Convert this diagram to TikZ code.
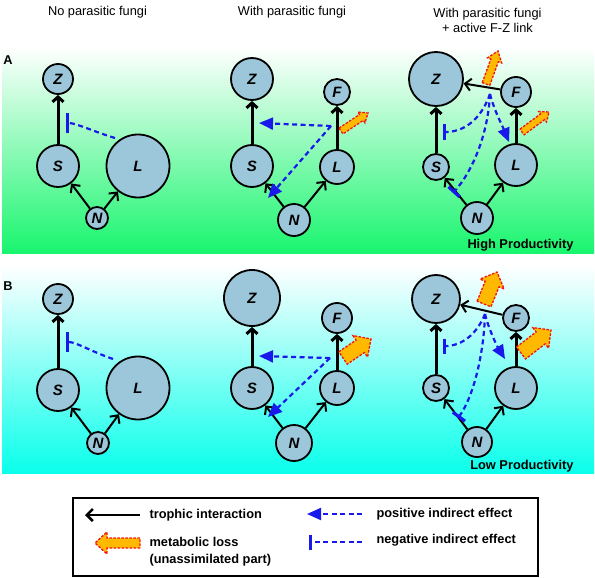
\documentclass[tikz,border=0pt]{standalone}
\usepackage{fontspec}
\setmainfont{Liberation Sans}
\usetikzlibrary{arrows.meta,calc}
\definecolor{nodefill}{RGB}{156,199,218}
\definecolor{dblue}{RGB}{25,25,235}
\definecolor{greenbot}{RGB}{25,245,110}
\definecolor{cyanbot}{RGB}{10,255,235}
\definecolor{lossfill}{RGB}{255,185,0}
\definecolor{lossred}{RGB}{240,20,20}
\tikzset{
  sp/.style={circle, draw=black, line width=1.8pt, fill=nodefill, inner sep=0pt,
    font=\fontsize{15}{15}\selectfont\bfseries\itshape},
  troph/.style={line width=2pt, -{Straight Barb[length=6pt,width=12pt]}},
  trophk/.style={line width=3pt, -{Straight Barb[length=5pt,width=11pt]}},
  poseff/.style={dblue, line width=2.2pt, dash pattern=on 5pt off 3.5pt, -{Triangle[length=14pt,width=12pt]}},
  negeff/.style={dblue, line width=2.2pt, dash pattern=on 5pt off 3.5pt, -{Bar[width=15pt,line width=3.2pt]}},
  negeffl/.style={negeff, -{Bar[width=20pt,line width=3.4pt]}},
  lossst/.style={fill=lossfill, draw=lossred, line width=1.3pt, dash pattern=on 2.5pt off 1.5pt, line join=miter},
  lbl/.style={font=\fontsize{12.8}{15.5}\selectfont},
  blbl/.style={font=\fontsize{12.8}{16.5}\selectfont\bfseries},
}
\newcommand\lossarrow[6]{%
  \coordinate (#1s) at #2; \coordinate (#1t) at #3;
  \coordinate (#1h) at ($(#1t)!#6!(#1s)$);
  \draw[lossst] ($(#1s)!#4!90:(#1t)$) -- ($(#1h)!#4!-90:(#1s)$) -- ($(#1h)!#5!-90:(#1s)$)
    -- (#1t) -- ($(#1h)!#5!90:(#1s)$) -- ($(#1h)!#4!90:(#1s)$) -- ($(#1s)!#4!-90:(#1t)$) -- cycle;
}
\begin{document}
\begin{tikzpicture}[x=1pt,y=-1pt]
\useasboundingbox (0,0) rectangle (595,578);
% backgrounds
\shade[top color=white, bottom color=greenbot] (2,47) rectangle (594,253);
\shade[top color=white, bottom color=cyanbot] (2,265) rectangle (594,473);
% titles
\node[lbl] (t1) at (97.5,12.5) {No parasitic fungi};
\node[lbl] (t2) at (292,12.5) {With parasitic fungi};
\node[lbl, align=center] (t3) at (487.5,20.5) {With parasitic fungi\\+ active F-Z link};
\node[blbl] (pA) at (8,60) {A};
\node[blbl] (pB) at (8,286) {B};
\node[blbl, anchor=east] (hp) at (577,245) {High Productivity};
\node[blbl, anchor=east] (lp) at (577,466) {Low Productivity};

% ===== Panel A, column 1
\node[sp, minimum size=30pt] (A1Z) at (58,79) {Z};
\node[sp, minimum size=42pt] (A1S) at (58,166) {S};
\node[sp, minimum size=63pt] (A1L) at (138,166) {L};
\node[sp, minimum size=22pt] (A1N) at (97,218) {N};
\draw[trophk] (A1S) -- (A1Z);
\draw[troph] (A1N) -- (A1S);
\draw[troph] (A1N) -- (A1L);
\coordinate (A1d) at (115,138);
\coordinate (A1b) at (66,123);
\draw[negeffl] (A1d) .. controls (92,131) and (76,123) .. (A1b);

% ===== Panel A, column 2
\node[sp, minimum size=42pt] (A2Z) at (252,79) {Z};
\node[sp, minimum size=26pt] (A2F) at (337,92) {F};
\node[sp, minimum size=42pt] (A2S) at (252,166) {S};
\node[sp, minimum size=34pt] (A2L) at (337,167) {L};
\node[sp, minimum size=32pt] (A2N) at (294,220) {N};
\draw[trophk] (A2S) -- (A2Z);
\draw[trophk] (A2L) -- (A2F);
\draw[troph] (A2N) -- (A2S);
\draw[troph] (A2N) -- (A2L);
\coordinate (A2h) at (331,126);
\coordinate (A2a1) at (259,123);
\coordinate (A2a2) at (268,198);
\draw[poseff] (A2h) -- (A2a1);
\draw[poseff] (A2h) -- (A2a2);
\lossarrow{A2l}{(341,131)}{(368,113)}{3.5pt}{6.5pt}{8pt}

% ===== Panel A, column 3
\node[sp, minimum size=54pt] (A3Z) at (436,79) {Z};
\node[sp, minimum size=30pt] (A3F) at (516,92) {F};
\node[sp, minimum size=26pt] (A3S) at (436,167) {S};
\node[sp, minimum size=42pt] (A3L) at (516,165) {L};
\node[sp, minimum size=32pt] (A3N) at (477,218) {N};
\draw[trophk] (A3S) -- (A3Z);
\draw[trophk] (A3L) -- (A3F);
\draw[troph] (A3F) -- (A3Z);
\draw[troph] (A3N) -- (A3S);
\draw[troph] (A3N) -- (A3L);
\coordinate (A3h) at (490,94);
\coordinate (A3b1) at (443,132);
\coordinate (A3a) at (509,142);
\coordinate (A3b2) at (453,193);
\draw[negeff] (A3h) .. controls (480,122) and (462,132) .. (A3b1);
\draw[poseff] (A3h) .. controls (494,110) and (502,125) .. (A3a);
\draw[negeff] (A3h) .. controls (488,135) and (472,172) .. (A3b2);
\lossarrow{A3la}{(486,84)}{(498,51)}{4pt}{7.5pt}{10pt}
\lossarrow{A3lb}{(522,132)}{(549,112)}{3.5pt}{6.5pt}{8pt}

% ===== Panel B, column 1
\node[sp, minimum size=30pt] (B1Z) at (58,299) {Z};
\node[sp, minimum size=42pt] (B1S) at (58,390) {S};
\node[sp, minimum size=63pt] (B1L) at (138,388) {L};
\node[sp, minimum size=22pt] (B1N) at (98,443) {N};
\draw[trophk] (B1S) -- (B1Z);
\draw[troph] (B1N) -- (B1S);
\draw[troph] (B1N) -- (B1L);
\coordinate (B1d) at (113,359);
\coordinate (B1b) at (66,342);
\draw[negeffl] (B1d) .. controls (90,351) and (76,342) .. (B1b);

% ===== Panel B, column 2
\node[sp, minimum size=56pt] (B2Z) at (252,298) {Z};
\node[sp, minimum size=30pt] (B2F) at (337,318) {F};
\node[sp, minimum size=42pt] (B2S) at (252,388) {S};
\node[sp, minimum size=34pt] (B2L) at (337,388) {L};
\node[sp, minimum size=36pt] (B2N) at (294,443) {N};
\draw[trophk] (B2S) -- (B2Z);
\draw[trophk] (B2L) -- (B2F);
\draw[troph] (B2N) -- (B2S);
\draw[troph] (B2N) -- (B2L);
\coordinate (B2h) at (330,358);
\coordinate (B2a1) at (259,356);
\coordinate (B2a2) at (268,417);
\draw[poseff] (B2h) -- (B2a1);
\draw[poseff] (B2h) -- (B2a2);
\lossarrow{B2l}{(343,358)}{(371,339)}{7.5pt}{13pt}{13pt}

% ===== Panel B, column 3
\node[sp, minimum size=48pt] (B3Z) at (436,299) {Z};
\node[sp, minimum size=26pt] (B3F) at (516,318) {F};
\node[sp, minimum size=26pt] (B3S) at (436,388) {S};
\node[sp, minimum size=42pt] (B3L) at (516,388) {L};
\node[sp, minimum size=30pt] (B3N) at (477,442) {N};
\draw[trophk] (B3S) -- (B3Z);
\draw[trophk] (B3L) -- (B3F);
\draw[troph] (B3F) -- (B3Z);
\draw[troph] (B3N) -- (B3S);
\draw[troph] (B3N) -- (B3L);
\coordinate (B3h) at (485,314);
\coordinate (B3b1) at (443,346);
\coordinate (B3a) at (505,359);
\coordinate (B3b2) at (458,418);
\draw[negeff] (B3h) .. controls (477,334) and (462,346) .. (B3b1);
\draw[poseff] (B3h) .. controls (489,330) and (497,346) .. (B3a);
\draw[negeff] (B3h) .. controls (484,352) and (474,396) .. (B3b2);
\lossarrow{B3la}{(484,304)}{(497,272)}{7.5pt}{13pt}{13pt}
\lossarrow{B3lb}{(521,353)}{(551,330)}{7.5pt}{13pt}{13pt}

% ===== Legend
\draw[line width=1.2pt] (73,498) rectangle (538,576);
\coordinate (lgTa) at (140,515);
\coordinate (lgTb) at (85,515);
\draw[troph, line width=2.6pt] (lgTa) -- (lgTb);
\node[blbl, anchor=west] (lgT) at (146,515) {trophic interaction};
\lossarrow{lgL}{(140,543)}{(95,543)}{5pt}{11pt}{12pt}
\node[blbl, anchor=west, align=left] (lgM) at (146,551.5) {metabolic loss\\(unassimilated part)};
\coordinate (lgPa) at (362,514);
\coordinate (lgPb) at (307,514);
\draw[poseff] (lgPa) -- (lgPb);
\node[blbl, anchor=west] (lgP) at (373,514) {positive indirect effect};
\coordinate (lgNa) at (362,542);
\coordinate (lgNb) at (309,542);
\draw[negeff] (lgNa) -- (lgNb);
\node[blbl, anchor=west] (lgN) at (373,540) {negative indirect effect};
\end{tikzpicture}
\end{document}
